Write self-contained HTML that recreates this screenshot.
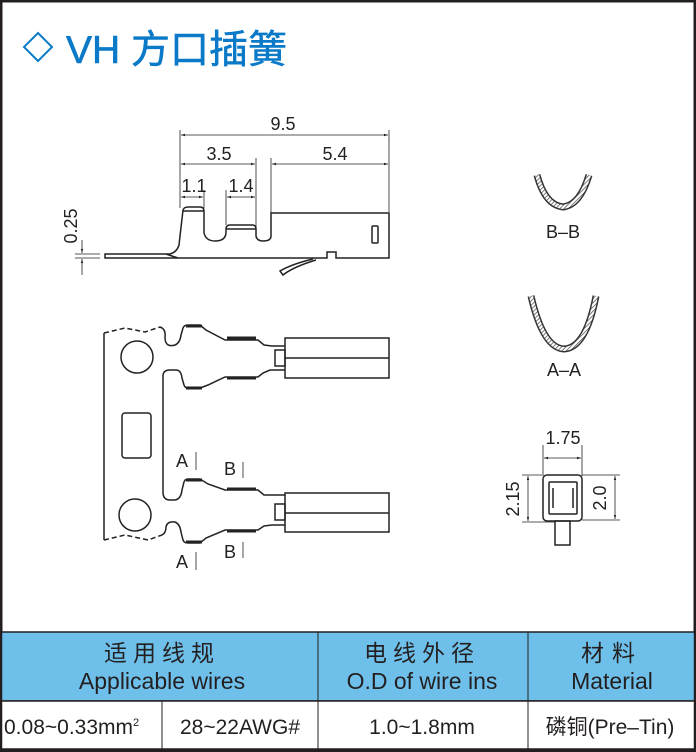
<!DOCTYPE html>
<html><head><meta charset="utf-8"><style>
html,body{margin:0;padding:0;background:#fff}
svg{display:block}
text{font-family:"Liberation Sans","Noto Sans CJK SC",sans-serif}
</style></head><body>
<svg width="696" height="752" viewBox="0 0 696 752" xmlns="http://www.w3.org/2000/svg">
<defs>
<marker id="ar" viewBox="0 0 10 10" refX="10" refY="5" markerWidth="7" markerHeight="5" orient="auto-start-reverse"><path d="M0,2 L10,5 L0,8 z" fill="#222"/></marker>
<pattern id="hat" width="3" height="3" patternUnits="userSpaceOnUse" patternTransform="rotate(45)"><rect width="3" height="3" fill="#fff"/><line x1="0" y1="0" x2="0" y2="3" stroke="#444" stroke-width="1.4"/></pattern>
</defs>
<rect x="1" y="1" width="694" height="750" fill="none" stroke="#231f20" stroke-width="3"/>
<!-- title -->
<path d="M38,33 L52,47 L38,61 L24,47 Z" fill="none" stroke="#0a7ac8" stroke-width="2"/>
<text x="66" y="63" font-size="39" fill="#0a7ac8" stroke="#0a7ac8" stroke-width="0.6">VH 方口插簧</text>

<g stroke="#222" fill="none" stroke-width="1.5">
<line x1="180" y1="130" x2="180" y2="208" stroke-width="0.8"/>
<line x1="389" y1="130" x2="389" y2="212" stroke-width="0.8"/>
<line x1="256" y1="158" x2="256" y2="238" stroke-width="0.8"/>
<line x1="271" y1="158" x2="271" y2="213" stroke-width="0.8"/>
<line x1="204" y1="190" x2="204" y2="208" stroke-width="0.8"/>
<line x1="226" y1="190" x2="226" y2="225" stroke-width="0.8"/>
<line x1="181" y1="135" x2="388" y2="135" stroke-width="0.8" marker-start="url(#ar)" marker-end="url(#ar)"/>
<line x1="181" y1="164" x2="255" y2="164" stroke-width="0.8" marker-start="url(#ar)" marker-end="url(#ar)"/>
<line x1="272" y1="164" x2="388" y2="164" stroke-width="0.8" marker-start="url(#ar)" marker-end="url(#ar)"/>
<line x1="181" y1="197" x2="203" y2="197" stroke-width="0.8" marker-start="url(#ar)" marker-end="url(#ar)"/>
<line x1="227" y1="197" x2="255" y2="197" stroke-width="0.8" marker-start="url(#ar)" marker-end="url(#ar)"/>
<line x1="75" y1="254" x2="100" y2="254" stroke-width="0.8"/>
<line x1="75" y1="258" x2="100" y2="258" stroke-width="0.8"/>
<line x1="82" y1="240" x2="82" y2="253" stroke-width="0.8" marker-end="url(#ar)"/>
<line x1="82" y1="275" x2="82" y2="259" stroke-width="0.8" marker-end="url(#ar)"/>
<path d="M105,254 L170,254 Q177,252 179,245 L183,210 Q184,207 188,207 L200,207 Q204,207 204,211 L204,233 Q206,241 215,241 Q226,241 226,232 L226,229 Q226,225 230,225 L252,225 Q256,225 256,229 L256,236 Q257,241 263,241 Q271,241 271,236 L271,213 L389,213 L389,258 L336,258 L336,252 L327,252 L327,258 L105,258 Z"/>
<line x1="183" y1="211" x2="204" y2="211"/>
<line x1="226" y1="229" x2="256" y2="229"/>
<line x1="166" y1="254" x2="178" y2="258"/>
<rect x="372" y="226" width="6" height="17" rx="1"/>
<path d="M313,259 Q292,264 280,271 L283,275 Q293,267 316,260"/>
<path d="M104,333 L104,540"/>
<path d="M104,333 L125,328 L145,332 L160,327" stroke-dasharray="5,3"/>
<path d="M104,540 L125,535 L148,540 L162,535" stroke-dasharray="5,3"/>
<circle cx="137" cy="357" r="16"/>
<circle cx="135" cy="515" r="16"/>
<rect x="122" y="413" width="29" height="45" rx="3"/>
<path d="M163,376 Q163,370 170,370 L176,370 Q181,370 182,378 L184,385 Q185,388 188,388 L200,388 L208,385 L225,377 L258,377 L263,373 L270,370 L285,370"/>
<path d="M160,327 Q166,329 165,337 Q165,348 175,345 Q180,343 181,335 L183,328 Q184,325 188,325 L200,325 L206,330 L225,340 L258,340 L264,345 L272,346 L285,346"/>
<path d="M163,376 L163,492 Q163,500 170,500 L175,500 Q181,499 182,490 L184,482 Q185,479 188,479 L200,479 L208,484 L225,490 L258,490 L264,495 L285,495"/>
<path d="M162,535 Q166,533 166,527 Q167,521 175,522 Q180,524 181,532 L183,540 Q184,543 188,543 L200,543 L206,538 L225,530 L258,530 L264,526 L272,525 L285,525"/>
<g stroke-width="3"><line x1="186" y1="326" x2="202" y2="326"/><line x1="227" y1="338" x2="256" y2="338"/><line x1="186" y1="388" x2="202" y2="388"/><line x1="227" y1="378" x2="256" y2="378"/><line x1="186" y1="480" x2="202" y2="480"/><line x1="227" y1="489" x2="256" y2="489"/><line x1="186" y1="542" x2="202" y2="542"/><line x1="227" y1="531" x2="256" y2="531"/></g>
<rect x="285" y="338" width="104" height="40"/><line x1="285" y1="358" x2="389" y2="358"/>
<rect x="275" y="350" width="10" height="16"/>
<rect x="285" y="493" width="104" height="39"/><line x1="285" y1="513" x2="389" y2="513"/>
<rect x="275" y="504" width="10" height="16"/>
<g stroke-width="0.8"><line x1="196" y1="452" x2="196" y2="470"/><line x1="243" y1="462" x2="243" y2="478"/><line x1="196" y1="552" x2="196" y2="570"/><line x1="243" y1="542" x2="243" y2="558"/></g>
<path d="M537,175 Q545,205 563,207 Q580,205 589,175" stroke="#333" stroke-width="7" />
<path d="M537,175 Q545,205 563,207 Q580,205 589,175" stroke="url(#hat)" stroke-width="4"/>
<path d="M531,296 Q543,348 564,349 Q586,348 596,296" stroke="#333" stroke-width="7"/>
<path d="M531,296 Q543,348 564,349 Q586,348 596,296" stroke="url(#hat)" stroke-width="4"/>
<line x1="543" y1="445" x2="543" y2="476" stroke-width="0.8"/>
<line x1="582" y1="445" x2="582" y2="476" stroke-width="0.8"/>
<line x1="544" y1="458" x2="581" y2="458" stroke-width="0.8" marker-start="url(#ar)" marker-end="url(#ar)"/>
<rect x="543" y="475" width="39" height="46" rx="4"/>
<rect x="549" y="482" width="28" height="32" rx="1"/>
<path d="M553,488 L553,508 M573,488 L573,508"/>
<rect x="555" y="521" width="15" height="24"/>
<line x1="522" y1="475" x2="542" y2="475" stroke-width="0.8"/>
<line x1="522" y1="522" x2="555" y2="522" stroke-width="0.8"/>
<line x1="582" y1="475" x2="620" y2="475" stroke-width="0.8"/>
<line x1="582" y1="520" x2="620" y2="520" stroke-width="0.8"/>
<line x1="528" y1="476" x2="528" y2="521" stroke-width="0.8" marker-start="url(#ar)" marker-end="url(#ar)"/>
<line x1="615" y1="476" x2="615" y2="519" stroke-width="0.8" marker-start="url(#ar)" marker-end="url(#ar)"/>
</g>
<g font-size="18" fill="#222">
<text x="283" y="130" text-anchor="middle">9.5</text>
<text x="219" y="160" text-anchor="middle">3.5</text>
<text x="335" y="160" text-anchor="middle">5.4</text>
<text x="194" y="192" text-anchor="middle">1.1</text>
<text x="241" y="192" text-anchor="middle">1.4</text>
<text transform="translate(77,226) rotate(-90)" text-anchor="middle">0.25</text>
<text x="563" y="238" text-anchor="middle">B–B</text>
<text x="564" y="376" text-anchor="middle">A–A</text>
<text x="563" y="444" text-anchor="middle">1.75</text>
<text transform="translate(519,499) rotate(-90)" text-anchor="middle">2.15</text>
<text transform="translate(606,498) rotate(-90)" text-anchor="middle">2.0</text>
<text x="176" y="467">A</text><text x="224" y="475">B</text>
<text x="176" y="568">A</text><text x="224" y="558">B</text>
</g>
<rect x="1.5" y="632" width="693" height="69" fill="#6ec0ea" stroke="#231f20" stroke-width="1.5"/>
<rect x="1.5" y="701" width="693" height="48" fill="#fff" stroke="#231f20" stroke-width="1.5"/>
<g stroke="#231f20" stroke-width="1"><line x1="318" y1="632" x2="318" y2="749"/><line x1="528" y1="632" x2="528" y2="749"/><line x1="162" y1="701" x2="162" y2="749"/></g>
<g font-size="23" fill="#231f20" text-anchor="middle">
<text x="162" y="661" letter-spacing="6">适用线规</text>
<text x="162" y="689">Applicable wires</text>
<text x="422" y="661" letter-spacing="6">电线外径</text>
<text x="422" y="689">O.D of wire ins</text>
<text x="612" y="661" letter-spacing="8">材料</text>
<text x="612" y="689">Material</text>
</g>
<g font-size="21" fill="#231f20">
<text x="4" y="734">0.08~0.33mm<tspan font-size="11" dy="-8">2</tspan></text>
<text x="240" y="734" text-anchor="middle">28~22AWG#</text>
<text x="422" y="734" text-anchor="middle">1.0~1.8mm</text>
<text x="610" y="734" text-anchor="middle">磷铜(Pre–Tin)</text>
</g>
</svg>
</body></html>
